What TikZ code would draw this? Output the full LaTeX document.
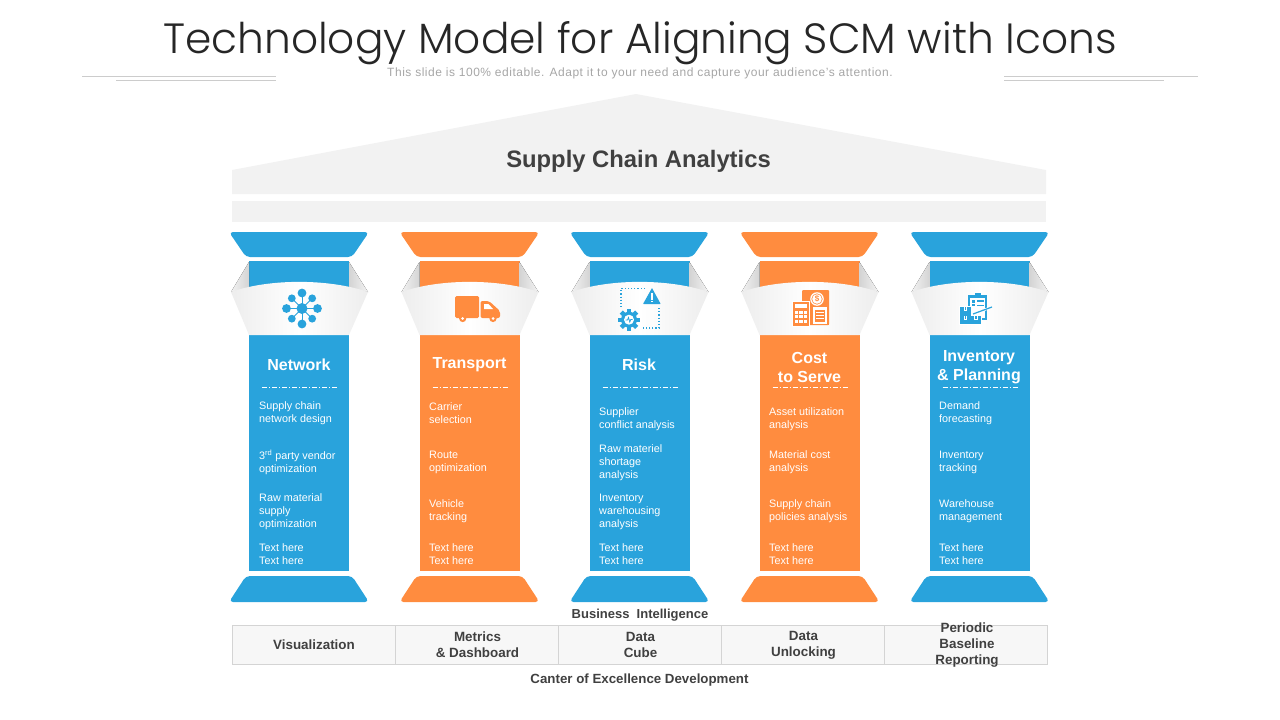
\documentclass[tikz,border=0pt]{standalone}
\usepackage{fontspec}
\setmainfont{Liberation Sans}
\newfontfamily\titlefont[UprightFont=* Light]{Poppins}
\newfontfamily\subfont[LetterSpace=4.3]{Liberation Sans}
\usepackage{xcolor}
\usetikzlibrary{calc}
\definecolor{pillarblue}{HTML}{29A3DC}
\definecolor{pillarorange}{HTML}{FF8C3F}
\definecolor{darktext}{HTML}{404040}
\tikzstyle{roofshade}=[fill=black!5]
\tikzstyle{headline}=[text=white,font=\fontsize{16}{19}\selectfont\bfseries,align=center,inner sep=0pt]
\tikzstyle{itemtext}=[text=white,font=\fontsize{10.8}{13}\selectfont,align=left,anchor=west,inner sep=0pt]
\tikzstyle{celltext}=[text=darktext,font=\fontsize{13.4}{16}\selectfont\bfseries,align=center,inner sep=0pt]
\tikzstyle{ruleline}=[draw=black!20,line width=.9pt]
\newcommand{\pillarBox}[2]{
	\begin{scope}[shift={(#1,0)}]
		\fill[#2,rounded corners=4pt] (-70,232) -- (70,232) -- (53,257) -- (-53,257) -- cycle;
		\fill[#2] (-50,261) rectangle (50,290);
		\fill[#2] (-50,335) rectangle (50,571);
		\fill[#2,rounded corners=4pt] (-53,576) -- (53,576) -- (70,602) -- (-70,602) -- cycle;
		\fill[left color=black!5,right color=black!17] (-50,262) -- (-68,292) -- (-50,289) -- cycle;
		\fill[left color=black!17,right color=black!5] (50,262) -- (69,292) -- (50,289) -- cycle;
		\shade[left color=black!7,right color=black!7,middle color=white] (-68,292) .. controls (-30,278.5) and (30,278.5) .. (69,292) -- (50,335) -- (-50,335) -- cycle;
		\draw[white,line width=.8pt,dash pattern=on 5pt off 2pt on 1pt off 2pt] (-37,387) -- (38,387);
	\end{scope}
}
\begin{document}
\begin{tikzpicture}[x=1pt,y=-1pt]
	\useasboundingbox (0,0) rectangle (1280,720);
	% header
	\node[text=black!85,font=\fontsize{42.3}{46}\selectfont\titlefont,inner sep=0pt] (maintitle) at (640,43) {Technology Model for Aligning SCM with Icons};
	\node[text=black!35,font=\fontsize{12}{14}\selectfont\subfont,inner sep=0pt] (subtitle) at (640,73.5) {This slide is 100\% editable. Adapt it to your need and capture your audience’s attention.};
	\draw[ruleline] (82,76) -- (276,76);
	\draw[ruleline] (116,80) -- (276,80);
	\draw[ruleline] (1004,76) -- (1198,76);
	\draw[ruleline] (1004,80) -- (1164,80);
	% roof
	\fill[roofshade] (232,170) -- (636,94) -- (1046,170) -- (1046,194) -- (232,194) -- cycle;
	\fill[roofshade] (232,201) rectangle (1046,222);
	\node[text=darktext,font=\fontsize{23.8}{28}\selectfont\bfseries,inner sep=0pt] (roofname) at (638.5,161.5) {Supply Chain Analytics};
	% pillars
	\pillarBox{299}{pillarblue}
	\pillarBox{469.5}{pillarorange}
	\pillarBox{639.5}{pillarblue}
	\pillarBox{809.5}{pillarorange}
	\pillarBox{979.5}{pillarblue}
	% network icon
	\foreach \a/\r/\s in {0/15.5/4.4,45/14.4/3.9,90/15.5/4.4,135/14.4/3.9,180/15.5/4.4,225/14.4/3.9,270/15.5/4.4,315/14.4/3.9}{
		\draw[pillarblue,line width=1pt] (302,308.5) -- ++(\a:\r);
		\fill[pillarblue] (302,308.5) ++(\a:\r) circle (\s);
	}
	\fill[pillarblue] (302,308.5) circle (5.5);
	% truck icon
	\fill[pillarorange,rounded corners=1.5pt] (455,296) rectangle (479,318);
	\fill[pillarorange,rounded corners=2pt] (480.5,301) -- (489,301) -- (500,311) -- (500,318) -- (480.5,318) -- cycle;
	\fill[white] (484,304) -- (488.5,304) -- (493,309) -- (484,309) -- cycle;
	\foreach \x in {462.7,493}{
		\fill[pillarorange] (\x,318.5) circle (3.6);
		\fill[white] (\x,318.5) circle (1.5);
	}
	% risk icon
	\draw[pillarblue,line width=1.2pt,dotted] (645,288.5) -- (621,288.5) -- (621,308);
	\draw[pillarblue,line width=1.2pt,dotted] (659,308) -- (659,328) -- (643,328);
	\fill[pillarblue,rounded corners=.5pt] (643,304) -- (652,288) -- (660.7,304) -- cycle;
	\fill[white] (651.2,293) rectangle (652.8,299.5);
	\fill[white] (651.2,300.5) rectangle (652.8,302.3);
	\foreach \a in {0,45,...,315}{
		\fill[pillarblue,rotate around={\a:(629,319.7)}] (626.8,308.8) rectangle (631.2,314);
	}
	\fill[pillarblue] (629,319.7) circle (8);
	\fill[white] (629,319.7) circle (5);
	\draw[pillarblue,line width=.8pt] (625.5,320) -- (627.5,320) -- (628.5,317.5) -- (629.8,322) -- (630.8,319.5) -- (632.5,319.5);
	% cost icon
	\fill[pillarorange,rounded corners=1pt] (802,290) rectangle (829,325);
	\fill[white] (817,299) circle (6.8);
	\fill[pillarorange] (817,299) circle (5.6);
	\fill[white] (817,299) circle (4.8);
	\node[text=pillarorange,font=\fontsize{8}{8}\selectfont\bfseries,inner sep=0pt] (dollarsign) at (817,299) {\$};
	\fill[white] (813,307) rectangle (827,324);
	\fill[pillarorange] (815,310) rectangle (825,322);
	\foreach \y in {312.5,315.5,318.5}{
		\draw[white,line width=.6pt] (816,\y) -- (824,\y);
	}
	\draw[pillarorange,line width=1pt] (811,324.5) -- (829,324.5);
	\fill[white] (791.8,300.8) rectangle (810.2,327);
	\fill[pillarorange] (793,302) rectangle (809,325.8);
	\fill[white] (795,304) rectangle (807,308);
	\foreach \x in {795,799.4,803.8}{
		\foreach \y in {310.5,315,319.5}{
			\fill[white] (\x,\y) rectangle ++(3.2,3.2);
		}
	}
	% inventory icon
	\fill[pillarblue] (968,295) rectangle (987,320);
	\fill[pillarblue] (974.5,292.5) rectangle (980.5,296);
	\fill[white] (970,297.5) rectangle (985,318);
	\foreach \y in {299.5,304,308.5}{
		\fill[pillarblue] (971.5,\y) rectangle ++(3.5,3);
		\fill[pillarblue] (976.5,\y+.8) rectangle ++(7.5,1.2);
	}
	\fill[white] (959,306) rectangle (982,325);
	\fill[pillarblue] (960,307) rectangle (971,315.5);
	\fill[pillarblue] (960,316.3) rectangle (970.6,324.3);
	\fill[pillarblue] (971.4,316.3) rectangle (981,324.3);
	\foreach \x in {965.3,976}{
		\draw[white,line width=.7pt] (\x-1.2,316.3) -- (\x-1.2,319.5) -- (\x+1.2,319.5) -- (\x+1.2,316.3);
	}
	\draw[white,line width=.7pt] (964.3,307) -- (964.3,310.2) -- (966.7,310.2) -- (966.7,307);
	\draw[white,line width=2.4pt] (973,314) -- (992,307);
	\draw[pillarblue,line width=1.2pt] (973,314) -- (992,307);
	% pillar heads
	\node[headline] (headnetwork) at (299,364.5) {Network};
	\node[headline] (headtransport) at (469.5,364.5) {Transport};
	\node[headline] (headrisk) at (639,364.5) {Risk};
	\node[headline] (headcost) at (809.5,367) {Cost\\to Serve};
	\node[headline] (headinventory) at (979,367) {Inventory\\\& Planning};
	% network items
	\node[itemtext] (neta) at (259,413) {Supply chain\\network design};
	\node[itemtext] (netb) at (259,462) {3\textsuperscript{rd} party vendor\\optimization};
	\node[itemtext] (netc) at (259,511.5) {Raw material\\supply\\optimization};
	\node[itemtext] (netd) at (259,554) {Text here\\Text here};
	% transport items
	\node[itemtext] (tra) at (429,413) {Carrier\\selection};
	\node[itemtext] (trb) at (429,462) {Route\\optimization};
	\node[itemtext] (trc) at (429,511) {Vehicle\\tracking};
	\node[itemtext] (trd) at (429,554) {Text here\\Text here};
	% risk items
	\node[itemtext] (riska) at (599,419) {Supplier\\conflict analysis};
	\node[itemtext] (riskb) at (599,462.5) {Raw materiel\\shortage\\analysis};
	\node[itemtext] (riskc) at (599,511.5) {Inventory\\warehousing\\analysis};
	\node[itemtext] (riskd) at (599,554) {Text here\\Text here};
	% cost items
	\node[itemtext] (costa) at (769,419) {Asset utilization\\analysis};
	\node[itemtext] (costb) at (769,462) {Material cost\\analysis};
	\node[itemtext] (costc) at (769,511) {Supply chain\\policies analysis};
	\node[itemtext] (costd) at (769,554) {Text here\\Text here};
	% inventory items
	\node[itemtext] (inva) at (939,413) {Demand\\forecasting};
	\node[itemtext] (invb) at (939,462) {Inventory\\tracking};
	\node[itemtext] (invc) at (939,511) {Warehouse\\management};
	\node[itemtext] (invd) at (939,554) {Text here\\Text here};
	% base table
	\fill[black!3] (232.5,625.5) rectangle (1047.5,664.5);
	\draw[black!17] (232.5,625.5) rectangle (1047.5,664.5);
	\foreach \x in {395.5,558.5,721.5,884.5}{
		\draw[black!17] (\x,625.5) -- (\x,664.5);
	}
	\node[celltext] (cellviz) at (314,645) {Visualization};
	\node[celltext] (cellmetrics) at (477.5,645) {Metrics\\\& Dashboard};
	\node[celltext] (cellcube) at (640.5,645) {Data\\Cube};
	\node[celltext] (cellunlock) at (803.5,645) {Data\\Unlocking};
	\node[celltext] (cellreport) at (967,645) {Periodic\\Baseline\\Reporting};
	\node[celltext,font=\fontsize{13}{16}\selectfont\bfseries] (bizintel) at (640,615.5) {Business\ \ Intelligence};
	\node[celltext,font=\fontsize{13.3}{16}\selectfont\bfseries] (canter) at (639.5,680.5) {Canter of Excellence Development};
\end{tikzpicture}
\end{document}
